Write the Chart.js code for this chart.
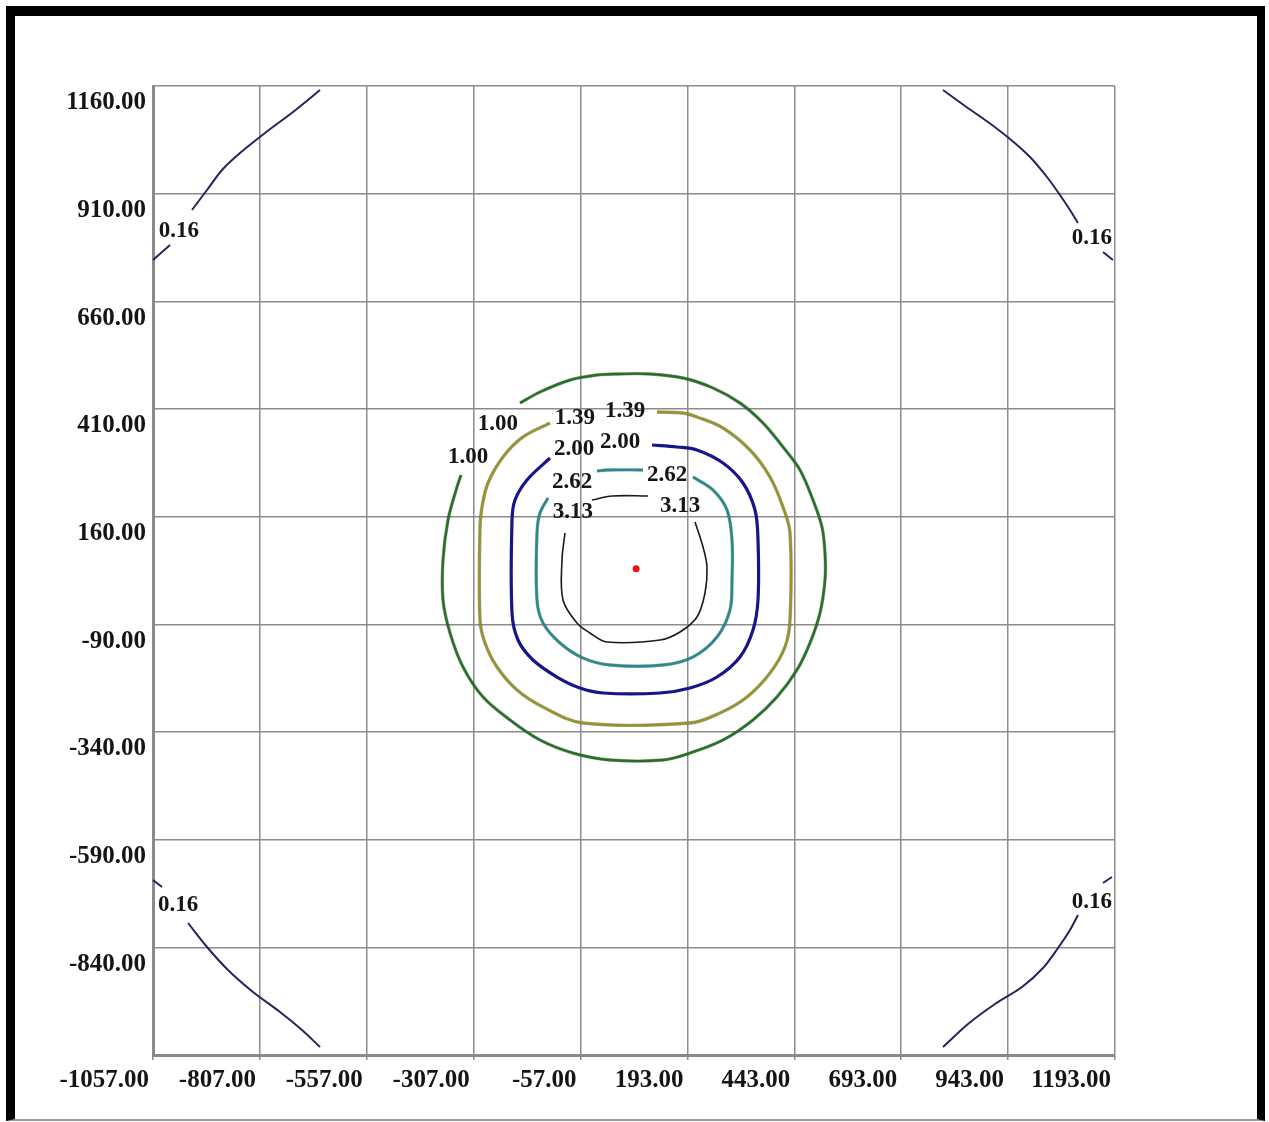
<!DOCTYPE html>
<html>
<head>
<meta charset="utf-8">
<script src="https://cdn.jsdelivr.net/npm/chart.js@4.4.1/dist/chart.umd.min.js"></script>
<style>
  html, body { margin: 0; padding: 0; background: #fff; }
  #wrap { position: relative; width: 1269px; height: 1122px; overflow: hidden; background: #fff; }
  #frame {
    position: absolute; left: 6px; top: 6px; width: 1259px; height: 1115px;
    box-sizing: border-box; pointer-events: none;
    border-left: 9px solid #000; border-top: 10px solid #000;
    border-right: 8px solid #000; border-bottom: 2px solid #9a9a9a;
  }
  #box { position: absolute; left: 0; top: 0; width: 1269px; height: 1122px; }
</style>
</head>
<body>
<div id="wrap">
  <div id="box"><canvas id="c"></canvas></div>
  <div id="frame"></div>
</div>
<script>
// Axis ticks
const xTicks = [-1057, -807, -557, -307, -57, 193, 443, 693, 943, 1193];
const xTickLabels = ['-1057.00', '-807.00', '-557.00', '-307.00', '-57.00', '193.00', '443.00', '693.00', '943.00', '1193.00'];
const yTicks = [1160, 910, 660, 410, 160, -90, -340, -590, -840, -1090];
const yTickLabels = ['1160.00', '910.00', '660.00', '410.00', '160.00', '-90.00', '-340.00', '-590.00', '-840.00', ''];

// Source location
const sourcePoint = [73, 39];

// Contour lines, level 3.13
const c313a = [[210.7,147.6],[229.4,89.6],[238.7,43.1],[234.1,-17.2],[215.3,-73.0],[175.6,-107.8],[128.8,-126.4],[4.9,-131.0],[-34.9,-110.1],[-65.3,-86.9],[-98.1,-33.5],[-100.4,59.4],[-93.4,122.1]];
const c313b = [[-30.2,198.7],[16.5,208.0],[100.7,208.0]];

// level 2.62
const c262a = [[206.0,252.1],[252.8,221.9],[285.5,175.5],[297.2,105.8],[297.2,12.9],[292.5,-56.7],[262.1,-119.4],[206.0,-165.9],[135.8,-184.4],[11.9,-184.4],[-51.3,-168.2],[-105.1,-133.3],[-144.8,-86.9],[-158.9,-33.5],[-158.9,122.1],[-151.9,168.5],[-133.2,203.3]];
const c262b = [[-18.5,266.0],[4.9,268.4],[89.0,268.4]];

// level 2.00
const c200 = [[110.1,326.4],[168.6,321.8],[215.3,314.8],[276.1,284.6],[322.9,238.2],[351.0,175.5],[358.0,105.8],[358.0,-33.5],[346.3,-103.2],[315.9,-165.9],[262.1,-212.3],[199.0,-237.8],[128.8,-249.4],[-4.5,-249.4],[-58.3,-237.8],[-112.1,-212.3],[-168.2,-172.8],[-203.3,-126.4],[-217.3,-63.7],[-217.3,152.3],[-210.3,198.7],[-182.3,245.1],[-128.5,296.2]];

// level 1.39
const c139 = [[121.8,403.0],[182.6,400.7],[215.3,391.4],[276.1,365.9],[339.3,314.8],[386.1,252.1],[416.5,182.4],[432.9,122.1],[432.9,-79.9],[421.1,-142.6],[386.1,-203.0],[332.3,-258.7],[269.1,-295.9],[199.0,-319.1],[-51.3,-319.1],[-144.8,-282.0],[-205.6,-242.5],[-252.4,-189.1],[-280.5,-133.3],[-292.2,-79.9],[-292.2,136.0],[-287.5,182.4],[-273.5,238.2],[-238.4,298.5],[-191.6,345.0],[-128.5,377.5]];

// level 1.00
const c100 = [[-198.6,423.9],[-151.9,449.5],[-81.7,477.3],[-18.5,488.9],[30.6,491.3],[105.4,491.3],[182.6,482.0],[252.8,458.8],[315.9,423.9],[369.7,377.5],[416.5,321.8],[456.2,268.4],[486.6,198.7],[507.7,136.0],[514.7,75.6],[514.7,12.9],[503.0,-63.7],[479.6,-133.3],[449.2,-196.0],[402.4,-258.7],[346.3,-312.1],[276.1,-358.6],[199.0,-388.8],[135.8,-405.0],[11.9,-405.0],[-74.7,-388.8],[-151.9,-358.6],[-222.0,-312.1],[-285.2,-258.7],[-331.9,-189.1],[-362.3,-110.1],[-378.7,-33.5],[-378.7,59.4],[-367.0,152.3],[-346.0,228.9],[-336.6,256.7]];

// level 0.16 (corners)
const c016tl = [[-666.4,1150.7],[-729.5,1099.6],[-795.0,1050.9],[-853.5,1004.4],[-895.6,965.0],[-930.7,918.5],[-965.8,872.1]];
const c016tlEdge = [[-1017.2,790.8],[-1057,756.0]];
const c016tr = [[790.7,1150.7],[842.1,1113.6],[895.9,1076.4],[947.4,1036.9],[994.2,995.1],[1033.9,948.7],[1064.3,906.9],[1087.7,872.1],[1106.4,841.9]];
const c016trEdge = [[1164.9,774.6],[1188.3,756.0]];
const c016blEdge = [[-1057,-683.7],[-1035.9,-699.9]];
const c016bl = [[-975.1,-783.5],[-930.7,-839.2],[-881.6,-892.6],[-823.1,-943.7],[-759.9,-990.2],[-708.5,-1032.0],[-666.4,-1071.4]];
const c016br = [[790.7,-1071.4],[849.2,-1018.0],[912.3,-971.6],[975.5,-932.1],[1024.6,-888.0],[1059.7,-841.6],[1087.7,-799.8],[1106.4,-764.9]];
const c016brEdge = [[1164.9,-690.6],[1185.9,-676.7]];

// Contour value labels
const labelText = ['1.00', '1.00', '1.39', '1.39', '2.00', '2.00', '2.62', '2.62', '3.13', '3.13', '0.16', '0.16', '0.16', '0.16'];
const labelX = [-250.1, -320.2, -70.0, 47.0, -72.3, 35.3, -77.0, 145.2, -74.7, 175.6, -996.2, 1139.0, -998.5, 1139.0];
const labelY = [375.2, 298.5, 389.1, 405.4, 317.1, 333.4, 240.5, 256.7, 170.8, 184.8, 823.3, 807.1, -741.7, -734.7];

const toXY = pts => pts.map(p => ({ x: p[0], y: p[1] }));

function line(points, color, width, tension) {
  return {
    data: toXY(points), showLine: true, borderColor: color, borderWidth: width,
    pointRadius: 0, pointHoverRadius: 0, tension: tension, fill: false, clip: false
  };
}
// coloured contour with a thin dark edge on each side
function edged(points, color) {
  return [line(points, 'rgba(20,20,20,0.4)', 3.4, 0.35), line(points, color, 2.4, 0.35)];
}

const datasets = [
  ...[c016tl, c016tlEdge, c016tr, c016trEdge, c016bl, c016blEdge, c016br, c016brEdge].map(s => line(s, '#24245e', 2, 0.3)),
  ...edged(c100, '#2fb32f'),
  ...edged(c139, '#f2ea36'),
  line(c200, '#16168a', 3.2, 0.35),
  ...[c262a, c262b].flatMap(s => edged(s, '#2edcdc')),
  ...[c313a, c313b].map(s => line(s, '#1a1a1a', 1.6, 0.35)),
  {
    data: toXY([sourcePoint]), showLine: false, pointRadius: 3.5, pointHoverRadius: 3.5,
    backgroundColor: '#ee1111', borderWidth: 0
  }
];

const contourLabels = {
  id: 'contourLabels',
  afterDatasetsDraw(chart) {
    const { ctx, scales: { x, y } } = chart;
    ctx.save();
    ctx.font = 'bold 23px "Liberation Serif", serif';
    ctx.fillStyle = '#151515';
    ctx.textAlign = 'center';
    ctx.textBaseline = 'middle';
    labelText.forEach((t, i) => {
      ctx.fillText(t, x.getPixelForValue(labelX[i]), y.getPixelForValue(labelY[i]));
    });
    ctx.restore();
  }
};

const tickFont = { family: '"Liberation Serif", serif', size: 25, weight: 'bold' };

new Chart(document.getElementById('c'), {
  type: 'scatter',
  data: { datasets },
  options: {
    responsive: true,
    maintainAspectRatio: false,
    animation: false,
    events: [],
    layout: { autoPadding: false, padding: { top: 86, right: 154, bottom: 0, left: 0 } },
    plugins: { legend: { display: false }, tooltip: { enabled: false } },
    scales: {
      x: {
        type: 'linear', min: xTicks[0], max: xTicks[xTicks.length - 1],
        afterBuildTicks: s => { s.ticks = xTicks.map(v => ({ value: v })); },
        afterFit: s => { s.height = 67; },
        grid: { color: '#8c8c8c', lineWidth: 1.5, drawTicks: true, tickLength: 5, tickColor: '#8c8c8c' },
        border: { display: true, color: '#8a8a8a', width: 3 },
        ticks: {
          autoSkip: false, maxRotation: 0, align: 'end', labelOffset: -4, padding: 6,
          color: '#151515', font: tickFont,
          callback: (v, i) => xTickLabels[i]
        }
      },
      y: {
        type: 'linear', min: yTicks[yTicks.length - 1], max: yTicks[0],
        afterBuildTicks: s => { s.ticks = yTicks.slice().reverse().map(v => ({ value: v })); },
        afterFit: s => { s.width = 153; },
        grid: { color: '#8c8c8c', lineWidth: 1.5, drawTicks: false },
        border: { display: true, color: '#8a8a8a', width: 3 },
        ticks: {
          autoSkip: false, labelOffset: 17, padding: 7,
          color: '#151515', font: tickFont,
          callback: (v, i) => yTickLabels[yTicks.length - 1 - i]
        }
      }
    }
  },
  plugins: [contourLabels]
});
</script>
</body>
</html>
